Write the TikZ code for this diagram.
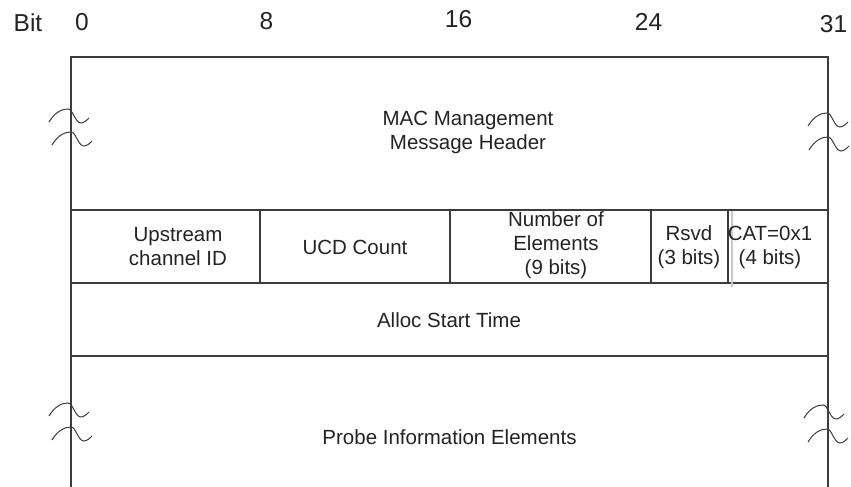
\documentclass[tikz,border=0pt]{standalone}
\usepackage{fontspec}
\setmainfont{Liberation Sans}
\definecolor{linegray}{RGB}{60,60,60}
\definecolor{textgray}{RGB}{35,35,35}
\definecolor{seamgray}{RGB}{200,200,200}
\tikzset{
  field/.style={align=center, text=textgray, inner sep=0pt, font=\fontsize{20.5}{24}\selectfont},
  bitnum/.style={text=textgray, inner sep=0pt, font=\fontsize{24.5}{29}\selectfont},
  frame/.style={draw=linegray, line width=1.3}
}
\begin{document}
\begin{tikzpicture}[x=1pt,y=-1pt]
\useasboundingbox (0,0) rectangle (851,487);
\node[bitnum] (bit) at (28,23) {Bit};
\node[bitnum] (b0) at (82,22) {0};
\node[bitnum] (b8) at (266.5,21) {8};
\node[bitnum] (b16) at (458.5,19) {16};
\node[bitnum] (b24) at (648.5,22) {24};
\node[bitnum] (b31) at (833.5,24) {31};
\draw[frame] (71,487)--(71,57)--(828,57)--(828,487);
\draw[frame] (71,210)--(828,210);
\draw[frame] (71,283)--(828,283);
\draw[frame] (71,356)--(828,356);
\draw[frame] (260,210)--(260,283);
\draw[frame] (450,210)--(450,283);
\draw[frame] (651,210)--(651,283);
\draw[frame] (728,210)--(728,283);
\draw[draw=seamgray, line width=1.3] (732,211)--(732,287);
\node[field] (hdr) at (468,132) {MAC Management\\Message Header};
\node[field] (upid) at (178,247) {Upstream\\channel ID};
\node[field] (ucd) at (355,247) {UCD Count};
\node[field] (nelem) at (556,245) {Number of\\Elements\\(9 bits)};
\node[field] (rsvd) at (689,247) {Rsvd\\(3 bits)};
\node[field] (cat) at (770,247) {CAT=0x1\\(4 bits)};
\node[field] (alloc) at (449,320) {Alloc Start Time};
\node[field] (probe) at (449.5,437) {Probe Information Elements};
\foreach \x/\y in {68/109, 71/132, 827/113, 828/137, 68/403, 71/427, 823/405, 827/429}
  \draw[draw=linegray, line width=1] (\x-19,\y+13) .. controls (\x-13,\y+3) and (\x-6,\y) .. (\x,\y)
    .. controls (\x+5,\y) and (\x+7,\y+14) .. (\x+13,\y+14)
    .. controls (\x+16,\y+14) and (\x+19,\y+11) .. (\x+21,\y+9);
\end{tikzpicture}
\end{document}
